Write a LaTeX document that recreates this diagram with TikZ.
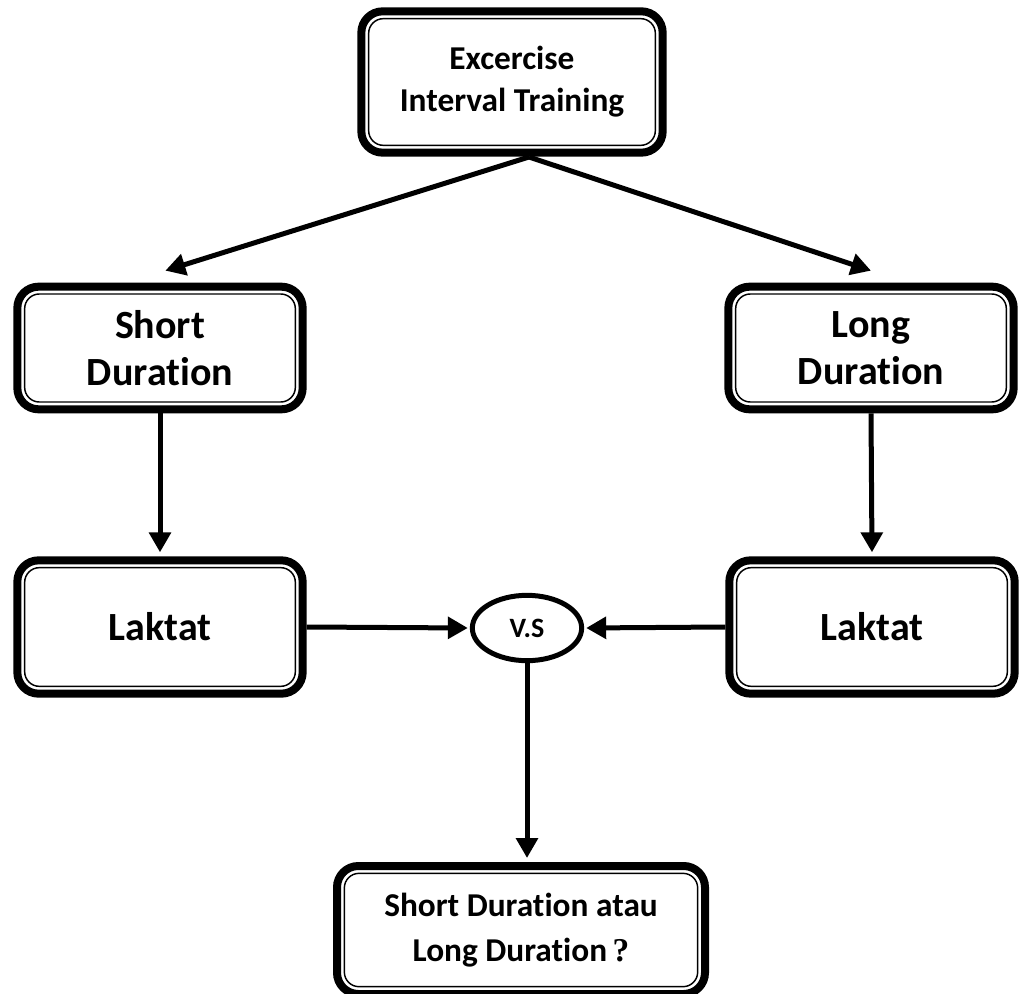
\documentclass[tikz,border=0pt]{standalone}
\usepackage{fontspec}
\setmainfont[Ligatures=NoCommon]{Carlito}
\newfontfamily\qmarkfont{Liberation Serif}
\usetikzlibrary{arrows.meta,shapes.geometric}

\begin{document}
\begin{tikzpicture}[x=0.75pt, y=-0.75pt,
  box/.style={draw, line width=6pt, rounded corners=16pt, inner sep=0pt, align=center,
    minimum width=214pt, minimum height=92pt, font=\bfseries\fontsize{30}{35}\selectfont,
    path picture={\draw[line width=1.1pt, rounded corners=11pt]
      ([shift={(5.5pt,5.5pt)}]path picture bounding box.south west) rectangle
      ([shift={(-5.5pt,-5.5pt)}]path picture bounding box.north east);}},
  vsnode/.style={draw, ellipse, line width=3.75pt, minimum width=82pt, minimum height=49pt, inner sep=0pt, font=\bfseries\fontsize{21}{24}\selectfont},
  arrow/.style={-{Triangle[length=15pt,width=16pt]}, line width=3.75pt}
]
  \useasboundingbox (0,0) rectangle (1019,994);

  % boxes
  \node[box, minimum width=226pt, minimum height=106pt, font=\bfseries\fontsize{25}{31.5}\selectfont] (top) at (512,82) {Excercise\\Interval Training};
  \node[box] (short) at (160,348) {Short\\Duration};
  \node[box] (long) at (871,348) {Long\\Duration};
  \node[box, minimum height=100pt] (laktatL) at (160,627) {Laktat};
  \node[box, minimum height=100pt] (laktatR) at (872,627) {Laktat};
  \node[vsnode] (vs) at (527,628) {V.S};
  \node[box, minimum width=276pt, minimum height=96pt, font=\bfseries\fontsize{25}{34}\selectfont] (result) at (521,930) {Short Duration atau\\Long Duration\,{\qmarkfont ?}};

  % connectors
  \coordinate (split) at (529,157);
  \draw[arrow] (split) -- ([xshift=4pt,yshift=9pt]short.north);
  \draw[arrow] (split) -- ([yshift=9pt]long.north);
  \draw[arrow, shorten >=3pt] (short.south) -- (laktatL.north);
  \draw[arrow, shorten >=3pt] (long.south) -- (laktatR.north);
  \draw[arrow, shorten >=1.5pt] (laktatL.east) -- (vs.west);
  \draw[arrow, shorten >=1.5pt] (laktatR.west) -- (vs.east);
  \draw[arrow, shorten >=3pt] (vs.south) -- (vs.south |- result.north);
\end{tikzpicture}
\end{document}
